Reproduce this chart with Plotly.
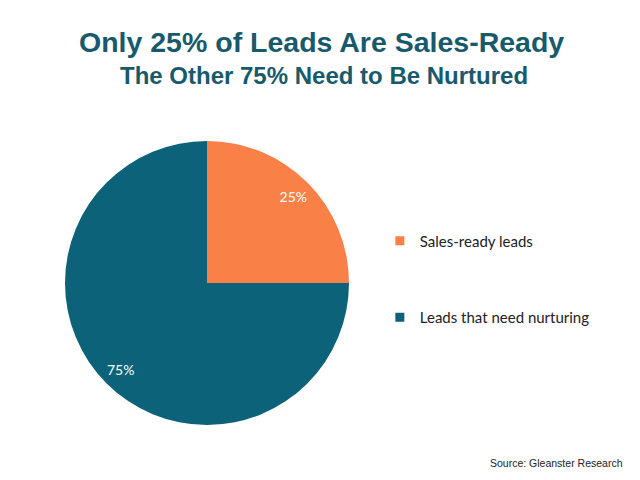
import plotly.graph_objects as go

labels = ["Sales-ready leads", "Leads that need nurturing"]
values = [25, 75]
colors = ["#F98046", "#0C6278"]
title = "Only 25% of Leads Are Sales-Ready"
subtitle = "The Other 75% Need to Be Nurtured"
source = "Source: Gleanster Research"

W, H = 640, 480
OFF = 8  # page offset
dom = dict(x=[(65 - OFF) / W, (349 - OFF) / W], y=[1 - (425 - OFF) / H, 1 - (141 - OFF) / H])

fig = go.Figure()
fig.add_trace(go.Pie(
    labels=labels, values=values, sort=False, direction="clockwise", rotation=0,
    marker=dict(colors=colors, line=dict(width=0)),
    textinfo="none", domain=dom, showlegend=False, hoverinfo="label+percent",
))
fig.add_trace(go.Pie(
    labels=labels, values=values, sort=False, direction="clockwise", rotation=0,
    hole=0.72,
    marker=dict(colors=["rgba(0,0,0,0)"] * len(values), line=dict(width=0)),
    textinfo="percent", textposition="inside", insidetextorientation="horizontal",
    textfont=dict(family="Lato", size=14, color="white"),
    domain=dom, showlegend=False, hoverinfo="skip",
))
for i, (lab, col) in enumerate(zip(labels, colors)):
    fig.add_trace(go.Scatter(
        x=[None], y=[None], mode="markers", name=lab, legendgroup=f"g{i}",
        marker=dict(symbol="square", size=9, color=col),
    ))

fig.update_layout(
    width=W, height=H,
    margin=dict(l=0, r=0, t=0, b=0),
    paper_bgcolor="white", plot_bgcolor="white",
    xaxis=dict(visible=False), yaxis=dict(visible=False),
    legend=dict(x=0.581, y=0.549, xanchor="left", yanchor="top",
                font=dict(family="Lato", size=15, color="#222222"),
                tracegroupgap=54, itemwidth=30, bgcolor="rgba(0,0,0,0)"),
    annotations=[
        dict(text=f"<b>{title}</b>", x=(321 - OFF) / W, y=1 - (42 - OFF) / H, xref="paper", yref="paper",
             yanchor="middle", showarrow=False,
             font=dict(family="Liberation Sans", size=28.5, color="#185A6C")),
        dict(text=f"<b>{subtitle}</b>", x=(324 - OFF) / W, y=1 - (76 - OFF) / H, xref="paper", yref="paper",
             yanchor="middle", showarrow=False,
             font=dict(family="Liberation Sans", size=24, color="#185A6C")),
        dict(text=source, x=(625 - OFF) / W, y=1 - (463 - OFF) / H, xref="paper", yref="paper",
             xanchor="right", yanchor="middle", showarrow=False,
             font=dict(family="Liberation Sans", size=10.5, color="#222222")),
    ],
)
fig.write_html("out.html")
